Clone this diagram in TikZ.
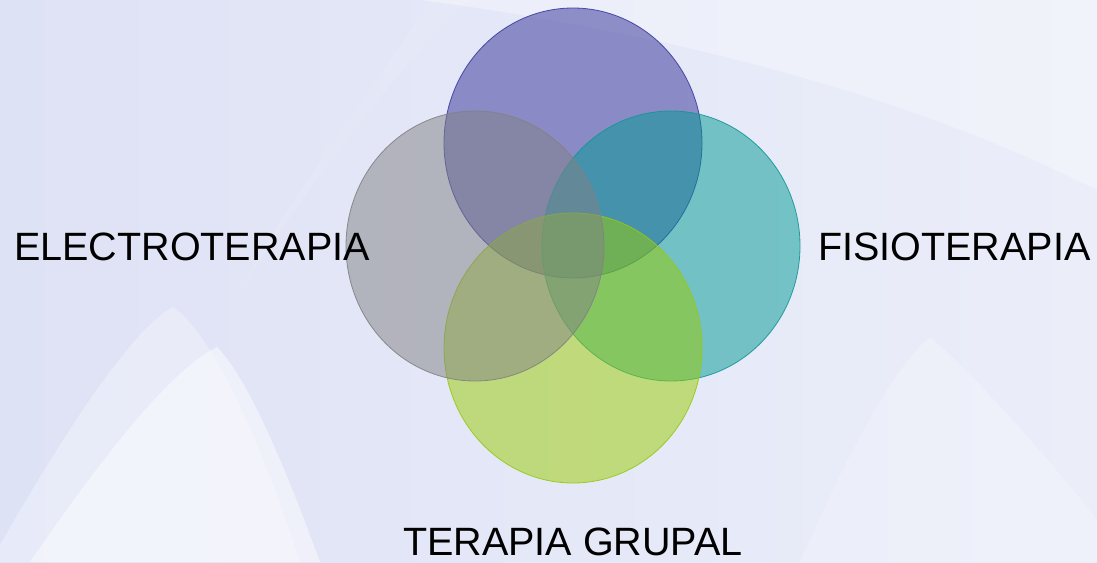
\documentclass[tikz,border=0pt]{standalone}
\usepackage{fontspec}
\setmainfont{Liberation Sans}
\usetikzlibrary{shapes.geometric}
\definecolor{bgA}{RGB}{222,226,245}
\definecolor{bgB}{RGB}{235,238,249}
\definecolor{cP}{RGB}{48,46,151}
\definecolor{cPe}{RGB}{60,60,160}
\definecolor{cT}{RGB}{0,154,147}
\definecolor{cTe}{RGB}{20,150,150}
\definecolor{cG}{RGB}{154,204,0}
\definecolor{cGe}{RGB}{150,200,20}
\definecolor{cY}{RGB}{130,130,133}
\definecolor{cYe}{RGB}{130,130,130}
\tikzset{
  blob/.style={ellipse, minimum width=258pt, minimum height=270pt, inner sep=0pt, line width=0.8pt, fill opacity=0.5, draw opacity=0.9},
  lbl/.style={anchor=base west, inner sep=0pt, font=\fontsize{39.5}{42}\selectfont, text=black}
}
\begin{document}
\begin{tikzpicture}[x=1pt,y=-1pt]
\useasboundingbox (0,0) rectangle (1097,562);
% background
\shade[left color=bgA, right color=bgB] (0,0) rectangle (1097,562);
\fill[white, opacity=0.3] (420,0) .. controls (650,30) and (900,90) .. (1097,190) -- (1097,0) -- cycle;
\fill[white, opacity=0.1] (430,0) .. controls (380,80) and (300,180) .. (240,290) .. controls (300,200) and (400,60) .. (470,0) -- cycle;
\fill[white, opacity=0.3] (0,545) .. controls (60,440) and (130,330) .. (173,307) .. controls (220,340) and (270,470) .. (300,562) -- (0,562) -- cycle;
\fill[white, opacity=0.45] (30,562) .. controls (100,460) and (170,370) .. (217,347) .. controls (250,380) and (290,480) .. (320,562) -- cycle;
\fill[white, opacity=0.2] (800,562) .. controls (840,470) and (890,370) .. (930,337) .. controls (980,380) and (1050,460) .. (1097,520) -- (1097,562) -- cycle;
% circles
\node[blob, fill=cP, draw=cPe] (top) at (573,143) {};
\node[blob, fill=cT, draw=cTe] (right) at (671,246) {};
\node[blob, fill=cG, draw=cGe] (bottom) at (573,348) {};
\node[blob, fill=cY, draw=cYe] (left) at (475,246) {};
% labels
\node[lbl] (l1) at (14,260) {ELECTROTERAPIA};
\node[lbl] (l2) at (818,260) {FISIOTERAPIA};
\node[lbl] (l3) at (403,555) {TERAPIA GRUPAL};
\end{tikzpicture}
\end{document}
